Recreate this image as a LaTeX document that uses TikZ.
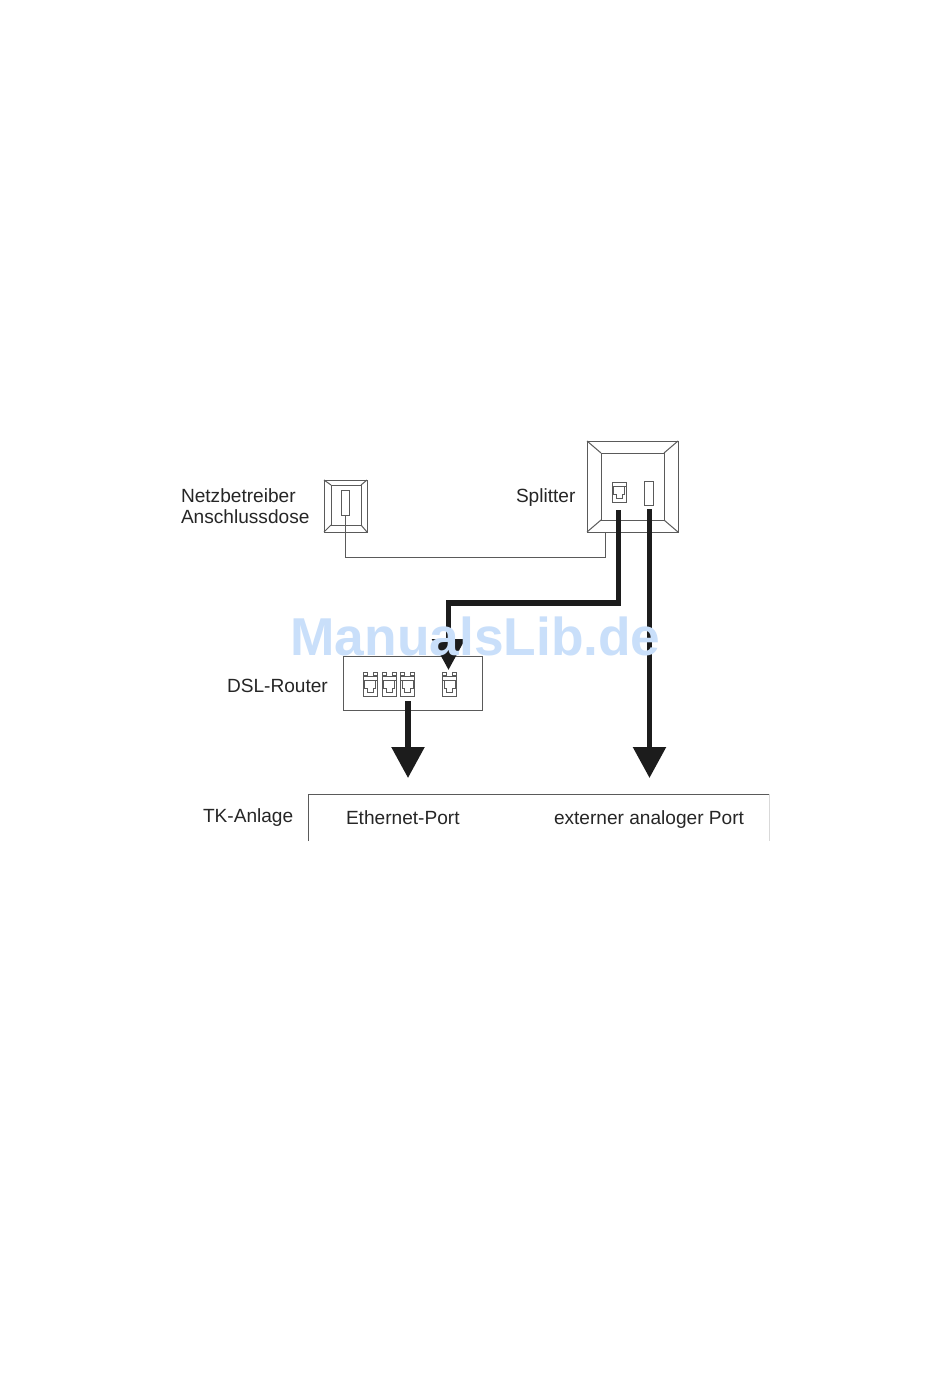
\documentclass[tikz,border=0pt]{standalone}
\usepackage{fontspec}
\usepackage{tikz}
\usetikzlibrary{arrows.meta}
\setmainfont{Liberation Sans}
\definecolor{linegray}{HTML}{5A5A5A}
\definecolor{cableblack}{HTML}{1C1C1C}
\definecolor{markblue}{HTML}{C9DFFA}
\tikzset{
	box/.style={draw=linegray,line width=1pt,inner sep=0pt,outer sep=0pt},
	bevel/.style={draw=linegray,line width=1pt},
	thin cable/.style={draw=linegray,line width=1pt},
	cable/.style={draw=cableblack,line width=5.5pt,-{Triangle[length=31pt,width=32pt]}},
	label/.style={inner sep=0pt,outer sep=0pt,anchor=base west,font=\fontsize{19.1}{21}\selectfont,text=black!85},
	jack/.pic={
		\draw[linegray,line width=1pt] (-7,-10) rectangle (7,10);
		\draw[linegray,line width=1pt] (-7,-6) -- (7,-6);
		\draw[linegray,line width=1pt] (-5.5,-6) -- (-5.5,2) -- (-3,2) -- (-3,6) -- (3,6) -- (3,2) -- (5.5,2) -- (5.5,-6);
	},
	jack top/.pic={
		\draw[linegray,line width=1pt] (-7,-14.5) rectangle (-3,-11.5);
		\draw[linegray,line width=1pt] (3,-14.5) rectangle (7,-11.5);
	}
}
\begin{document}
\begin{tikzpicture}[x=1pt,y=-1pt]
\useasboundingbox[fill=white] (0,0) rectangle (950,1379);

% socket
\node[box,minimum width=43pt,minimum height=52pt] (dose) at (345.5,506) {};
\node[box,minimum width=30pt,minimum height=40pt] (doseinner) at (346,505) {};
\node[box,minimum width=8pt,minimum height=25pt] (doseport) at (345.5,502.5) {};
\foreach \c in {north west,north east,south west,south east}
	\draw[bevel] (dose.\c) -- (doseinner.\c);

% splitter
\node[box,minimum width=91pt,minimum height=91pt] (splitter) at (632.5,486.5) {};
\node[box,minimum width=63pt,minimum height=67pt] (splitterinner) at (632.5,486.5) {};
\node[box,minimum width=9pt,minimum height=24pt] (analog) at (648.5,493) {};
\foreach \c in {north west,north east,south west,south east}
	\draw[bevel] (splitter.\c) -- (splitterinner.\c);
\pic at (619,492) {jack};

% router
\node[box,minimum width=139pt,minimum height=54pt] (router) at (412.5,683) {};
\foreach \x in {370,389,407.5,449.5}{
	\pic at (\x,686.5) {jack};
	\pic at (\x,686.5) {jack top};
}

% tk
\coordinate (tkleft) at (308,841);
\coordinate (tktopleft) at (308,794);
\coordinate (tktopright) at (769,794);
\coordinate (tkright) at (769,841);
\draw[thin cable] (tkleft) -- (tktopleft) -- (tktopright);
\draw[black!15,line width=1pt] (tktopright) -- (tkright);

% cables
\coordinate (thina) at (605.5,532);
\draw[thin cable] (doseport.south) |- (605.5,557) -- (thina);
\coordinate (dslout) at (618.5,510);
\coordinate (dslin) at (448.5,670);
\coordinate (analogout) at (649.5,509);
\coordinate (analogin) at (649.5,778);
\coordinate (ethout) at (408,701);
\coordinate (ethin) at (408,778);
\draw[cable] (dslout) |- (448.5,603) -- (dslin);
\draw[cable] (analogout) -- (analogin);
\draw[cable] (ethout) -- (ethin);

% labels
\node[label] (netz) at (181,502) {Netzbetreiber};
\node[label] (ansch) at (181,523) {Anschlussdose};
\node[label] (split) at (516,502) {Splitter};
\node[label] (dsl) at (227,692) {DSL-Router};
\node[label] (tk) at (203,822) {TK-Anlage};
\node[label] (eth) at (346,824) {Ethernet-Port};
\node[label] (ext) at (554,824) {externer analoger Port};

\node[font=\fontsize{53.3}{54}\selectfont\bfseries,text=markblue,inner sep=0pt] (mark) at (475.5,636) {ManualsLib.de};
\end{tikzpicture}
\end{document}
